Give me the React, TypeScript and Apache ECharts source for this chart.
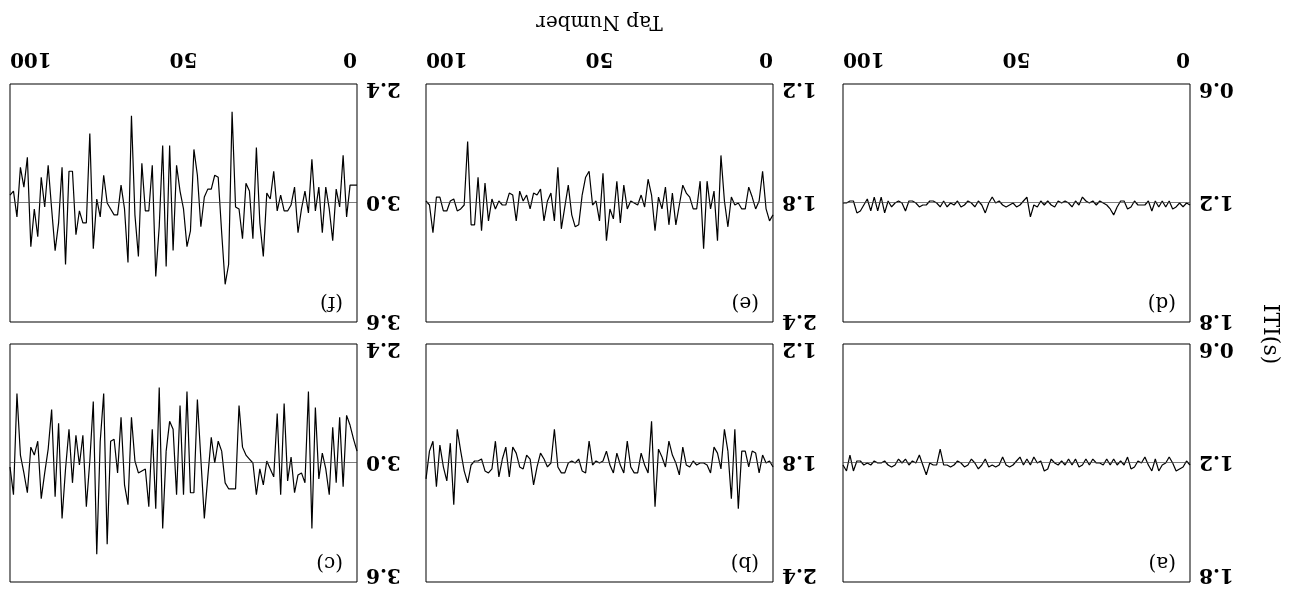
import React, { useEffect, useRef } from "react";
import * as echarts from "echarts";

// Tap number ticks and panel descriptions
const TAP_TICKS = [0, 50, 100];
const PANEL_LABELS = ["(a)", "(b)", "(c)", "(d)", "(e)", "(f)"];
const MEANS = [1.2, 1.8, 3.0, 1.2, 1.8, 3.0];
const Y_MIN = [0.6, 1.2, 2.4, 0.6, 1.2, 2.4];
const Y_MAX = [1.8, 2.4, 3.6, 1.8, 2.4, 3.6];
const Y_STEP = 0.6;
const X_TITLE = "Tap Number";
const Y_TITLE = "ITI(s)";

// ITI series (s), tap 0..100
const seriesA = [
  1.21, 1.19, 1.22, 1.23, 1.24, 1.2, 1.17, 1.2, 1.21, 1.24,
  1.18, 1.24, 1.21, 1.17, 1.2, 1.19, 1.22, 1.23, 1.17, 1.21,
  1.19, 1.21, 1.18, 1.21, 1.18, 1.21, 1.2, 1.2, 1.18, 1.21,
  1.18, 1.21, 1.22, 1.18, 1.21, 1.18, 1.21, 1.19, 1.21, 1.2,
  1.18, 1.23, 1.24, 1.19, 1.2, 1.17, 1.21, 1.18, 1.21, 1.17,
  1.19, 1.21, 1.22, 1.21, 1.17, 1.21, 1.22, 1.21, 1.22, 1.18,
  1.21, 1.23, 1.2, 1.18, 1.21, 1.22, 1.2, 1.19, 1.21, 1.22,
  1.21, 1.21, 1.13, 1.21, 1.21, 1.2, 1.26, 1.21, 1.16, 1.2,
  1.19, 1.21, 1.18, 1.2, 1.18, 1.21, 1.22, 1.21, 1.19, 1.2,
  1.2, 1.19, 1.21, 1.2, 1.21, 1.19, 1.19, 1.24, 1.16, 1.24,
  1.21,
];

const seriesB = [
  1.82, 1.79, 1.8, 1.76, 1.85, 1.75, 1.74, 1.82, 1.74, 1.74,
  2.03, 1.63, 1.98, 1.74, 1.63, 1.83, 1.75, 1.72, 1.85, 1.81,
  1.8, 1.8, 1.81, 1.79, 1.82, 1.81, 1.72, 1.86, 1.8, 1.76,
  1.69, 1.82, 1.77, 1.73, 2.02, 1.59, 1.85, 1.81, 1.75, 1.85,
  1.85, 1.82, 1.69, 1.85, 1.81, 1.75, 1.85, 1.81, 1.74, 1.79,
  1.8, 1.79, 1.81, 1.69, 1.85, 1.84, 1.78, 1.8, 1.79, 1.8,
  1.85, 1.85, 1.82, 1.63, 1.8, 1.82, 1.78, 1.75, 1.82, 1.91,
  1.78, 1.76, 1.83, 1.82, 1.75, 1.72, 1.87, 1.72, 1.78, 1.87,
  1.69, 1.83, 1.85, 1.84, 1.78, 1.79, 1.79, 1.81, 1.9, 1.84,
  1.74, 1.63, 2.01, 1.7, 1.89, 1.82, 1.71, 1.92, 1.69, 1.74,
  1.88,
];

const seriesC = [
  2.94, 2.88, 2.81, 2.76, 3.12, 2.77, 3.1, 2.82, 3.16, 3.03,
  2.95, 3.08, 2.72, 3.33, 2.64, 3.1, 3.05, 3.06, 3.15, 2.97,
  3.09, 2.7, 3.16, 2.75, 3.07, 3.03, 2.99, 3.11, 3.03, 3.16,
  3.0, 2.98, 2.96, 2.92, 2.71, 3.13, 3.13, 3.13, 3.1, 2.94,
  2.89, 3.0, 2.87, 3.07, 3.28, 2.98, 2.68, 3.15, 3.15, 2.64,
  3.16, 2.71, 3.16, 2.83, 2.79, 2.94, 3.33, 2.62, 3.23, 2.83,
  3.22, 3.03, 3.04, 3.05, 2.99, 2.77, 3.21, 3.11, 2.77, 3.05,
  2.88, 2.89, 3.41, 2.65, 2.89, 3.46, 2.69, 2.99, 3.22, 2.86,
  3.01, 2.86, 3.1, 2.83, 3.03, 3.28, 2.8, 3.17, 2.73, 2.93,
  3.05, 3.18, 2.89, 2.96, 2.92, 3.15, 3.05, 2.96, 2.65, 3.16,
  3.02,
];

const seriesD = [
  1.21, 1.2, 1.22, 1.2, 1.22, 1.23, 1.19, 1.22, 1.19, 1.22,
  1.19, 1.24, 1.19, 1.21, 1.21, 1.21, 1.19, 1.22, 1.23, 1.19,
  1.19, 1.22, 1.26, 1.23, 1.21, 1.2, 1.19, 1.21, 1.19, 1.2,
  1.19, 1.17, 1.21, 1.19, 1.22, 1.2, 1.19, 1.2, 1.19, 1.22,
  1.21, 1.19, 1.21, 1.19, 1.22, 1.21, 1.27, 1.17, 1.19, 1.21,
  1.22, 1.2, 1.21, 1.22, 1.21, 1.19, 1.2, 1.17, 1.2, 1.25,
  1.21, 1.19, 1.22, 1.2, 1.19, 1.21, 1.22, 1.19, 1.21, 1.2,
  1.22, 1.19, 1.22, 1.2, 1.19, 1.19, 1.21, 1.21, 1.22, 1.2,
  1.19, 1.19, 1.24, 1.2, 1.19, 1.2, 1.22, 1.19, 1.25, 1.17,
  1.24, 1.17, 1.24, 1.18, 1.21, 1.24, 1.25, 1.19, 1.19, 1.2,
  1.2,
];

const seriesE = [
  1.86, 1.89, 1.83, 1.64, 1.79, 1.83, 1.77, 1.72, 1.83, 1.83,
  1.8, 1.81, 1.77, 1.92, 1.79, 1.56, 1.99, 1.74, 1.83, 1.69,
  2.03, 1.69, 1.83, 1.83, 1.77, 1.75, 1.71, 1.81, 1.91, 1.75,
  1.91, 1.72, 1.83, 1.77, 1.94, 1.76, 1.68, 1.82, 1.76, 1.81,
  1.8, 1.79, 1.83, 1.71, 1.9, 1.69, 1.88, 1.83, 1.99, 1.65,
  1.89, 1.79, 1.81, 1.64, 1.67, 1.76, 1.91, 1.92, 1.86, 1.71,
  1.82, 1.93, 1.62, 1.89, 1.75, 1.79, 1.89, 1.73, 1.76, 1.75,
  1.83, 1.76, 1.79, 1.74, 1.89, 1.76, 1.75, 1.81, 1.81, 1.79,
  1.83, 1.78, 1.89, 1.7, 1.94, 1.67, 1.91, 1.91, 1.49, 1.81,
  1.83, 1.84, 1.78, 1.79, 1.84, 1.84, 1.77, 1.77, 1.95, 1.81,
  1.79,
];

const seriesF = [
  2.91, 2.91, 2.91, 3.07, 2.76, 3.02, 2.93, 3.19, 3.03, 2.92,
  3.15, 2.92, 3.04, 2.78, 3.05, 2.94, 3.03, 3.15, 2.92, 3.01,
  3.04, 3.04, 2.96, 3.04, 2.84, 2.98, 2.95, 3.27, 3.1, 2.72,
  3.18, 2.94, 2.9, 3.18, 3.03, 3.02, 2.54, 3.31, 3.41, 3.15,
  2.87, 2.86, 2.93, 2.93, 2.97, 3.12, 2.86, 2.73, 3.14, 3.22,
  3.03, 2.94, 2.81, 3.24, 2.71, 3.32, 2.71, 3.12, 3.37, 2.81,
  3.04, 3.04, 2.8, 3.27, 3.06, 2.56, 3.3, 3.03, 2.91, 3.06,
  3.06, 3.03, 3.0, 2.86, 3.07, 2.98, 3.23, 2.65, 3.1, 3.1,
  3.04, 3.16, 2.84, 2.84, 3.31, 2.82, 3.1, 3.24, 3.03, 2.81,
  3.02, 2.87, 3.17, 3.03, 3.22, 2.77, 2.92, 2.82, 3.07, 2.94,
  2.96,
];

const ALL_SERIES = [seriesA, seriesB, seriesC, seriesD, seriesE, seriesF];

const COL_LEFT = [105, 522, 938];
const COL_W = 347;
const ROW_TOP = [7, 267];
const ROW_H = 238;
const FONT = "'DejaVu Serif', 'Liberation Serif', serif";

export default function App() {
  const ref = useRef<HTMLDivElement>(null);

  useEffect(() => {
    if (!ref.current) return;
    const chart = echarts.init(ref.current, undefined, { renderer: "svg" });

    const grids: any[] = [];
    const xAxes: any[] = [];
    const yAxes: any[] = [];
    const series: any[] = [];
    const graphics: any[] = [];

    ALL_SERIES.forEach((vals, i) => {
      const col = i % 3;
      const row = Math.floor(i / 3);
      const left = COL_LEFT[col];
      const top = ROW_TOP[row];
      grids.push({
        left,
        top,
        width: COL_W,
        height: ROW_H,
        show: true,
        borderColor: "#000",
        borderWidth: 1,
        backgroundColor: "transparent",
      });
      xAxes.push({
        gridIndex: i,
        type: "value",
        min: TAP_TICKS[0],
        max: TAP_TICKS[TAP_TICKS.length - 1],
        interval: TAP_TICKS[1] - TAP_TICKS[0],
        axisLine: { show: false },
        axisTick: { show: false },
        splitLine: { show: false },
        axisLabel: {
          show: row === 1,
          fontFamily: FONT,
          fontWeight: "bold",
          fontSize: 20,
          color: "#000",
          margin: 14,
          alignMinLabel: "left",
          alignMaxLabel: "right",
        },
      });
      yAxes.push({
        gridIndex: i,
        type: "value",
        min: Y_MIN[i],
        max: Y_MAX[i],
        interval: Y_STEP,
        axisLine: { show: false },
        axisTick: { show: false },
        splitLine: { show: false },
        axisLabel: {
          fontFamily: FONT,
          fontWeight: "bold",
          fontSize: 20,
          lineHeight: 12,
          color: "#000",
          margin: 9,
          formatter: (v: number) => v.toFixed(1),
          verticalAlignMinLabel: "bottom",
          verticalAlignMaxLabel: row === 0 ? "top" : "middle",
        },
      });
      series.push({
        type: "line",
        xAxisIndex: i,
        yAxisIndex: i,
        data: vals.map((v, t) => [t, v]),
        showSymbol: false,
        symbol: "none",
        lineStyle: { color: "#000", width: 1.2 },
        markLine: {
          silent: true,
          symbol: ["none", "none"],
          label: { show: false },
          lineStyle: { color: "#444", width: 0.7, type: "solid" },
          data: [{ yAxis: MEANS[i] }],
        },
      });
      graphics.push({
        type: "text",
        left: left + 14,
        top: top + 8,
        style: {
          text: PANEL_LABELS[i],
          font: `20px ${FONT}`,
          fill: "#000",
        },
      });
    });

    graphics.push({
      type: "text",
      x: COL_LEFT[1] + COL_W / 2,
      y: 566,
      style: {
        text: X_TITLE,
        font: `20px ${FONT}`,
        fill: "#000",
        textAlign: "center",
        textVerticalAlign: "middle",
      },
    });
    graphics.push({
      type: "text",
      x: 23,
      y: 255,
      rotation: Math.PI / 2,
      style: {
        text: Y_TITLE,
        font: `22px ${FONT}`,
        fill: "#000",
        textAlign: "center",
        textVerticalAlign: "middle",
      },
    });

    chart.setOption({
      animation: false,
      backgroundColor: "#fff",
      grid: grids,
      xAxis: xAxes,
      yAxis: yAxes,
      series,
      graphic: graphics,
    });

    return () => chart.dispose();
  }, []);

  return (
    <div
      style={{
        position: "fixed",
        left: 0,
        top: 0,
        width: 1295,
        height: 589,
        transform: "rotate(180deg)",
        background: "#fff",
      }}
    >
      <div ref={ref} style={{ width: 1295, height: 589 }} />
    </div>
  );
}
